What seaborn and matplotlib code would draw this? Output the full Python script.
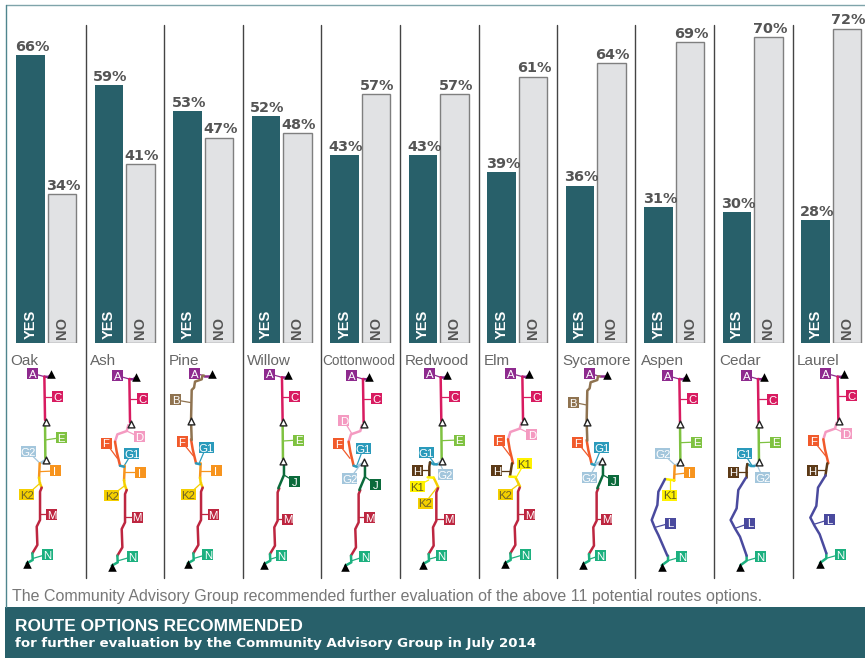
import pandas as pd
import seaborn as sns
import matplotlib.pyplot as plt
from matplotlib.patches import Rectangle

routes = ['Oak', 'Ash', 'Pine', 'Willow', 'Cottonwood', 'Redwood', 'Elm', 'Sycamore', 'Aspen', 'Cedar', 'Laurel']
yes_pct = [66, 59, 53, 52, 43, 43, 39, 36, 31, 30, 28]
no_pct = [34, 41, 47, 48, 57, 57, 61, 64, 69, 70, 72]

TEAL = '#28606a'
PAGE_W, PAGE_H = 865, 659

caption = 'The Community Advisory Group recommended further evaluation of the above 11 potential routes options.'
title = 'ROUTE OPTIONS RECOMMENDED'
subtitle = 'for further evaluation by the Community Advisory Group in July 2014'

# left edge of each route name on the page
name_x = [10, 90, 169, 247, 322, 405, 484, 562, 641, 719, 797]
# top black triangle of each map, page pixels
anchor_x = [50.7, 135.7, 211.7, 288.3, 369.3, 447, 528.7, 607.3, 685.7, 764.3, 844]
anchor_y = [374.3, 376.7, 374.3, 375, 376.7, 375, 374.3, 375, 376.7, 376.7, 374.3]
separator_x = [85.5, 163.5, 242.5, 321, 400, 478.5, 557, 635, 714, 792.5]

colors = {'A': '#8e2a8e', 'B': '#8f7350', 'C': '#d81b60', 'D': '#f49ac1', 'E': '#7fc241',
          'F': '#f15a2b', 'G1': '#2a9abb', 'G2': '#a3c6dc', 'H': '#5c3a17', 'I': '#f7941e',
          'J': '#0b6a3b', 'K1': '#fff200', 'K2': '#f4cf00', 'L': '#4a4a9e', 'M': '#bd2640', 'N': '#1cb07f'}
dark_text = {'K1': '#5f5a20', 'K2': '#6e6228'}

# map shapes, thirds of a pixel, relative to the top triangle
paths = {
    'A': ('A', [(-19, 7), (-8, 8), (0, 3)]),
    'A_b': ('A', [(-23, 4), (0, 4)]),
    'B': ('B', [(-23, 4), (-28, 4), (-30, 15), (-50, 22), (-53, 40), (-60, 47), (-62, 140), (-60, 197)]),
    'C': ('C', [(-19, 7), (-17, 137)]),
    'D': ('D', [(-22, 145), (-27, 163), (-55, 173), (-62, 195)]),
    'E': ('E', [(-17, 147), (-16, 252)]),
    'F': ('F', [(-62, 195), (-57, 225), (-47, 267)]),
    'G1': ('G1', [(-47, 267), (-35, 270)]),
    'G1_t': ('G1', [(-47, 267), (-38, 270)]),
    'G2_t': ('G2', [(-38, 270), (-15, 257)]),
    'G1_r': ('G1', [(-51, 262), (-40, 268), (-30, 268)]),
    'G2_r': ('G2', [(-30, 268), (-16, 258)]),
    'G2': ('G2', [(-32, 267), (-15, 257)]),
    'H_r': ('H', [(-51, 262), (-53, 275), (-53, 303)]),
    'H_f': ('H', [(-50, 267), (-56, 305)]),
    'I': ('I', [(-33, 267), (-35, 312)]),
    'J': ('J', [(-13, 262), (-13, 300), (-30, 340)]),
    'K1': ('K1', [(-58, 307), (-40, 308)]),
    'K1_i': ('K1', [(-34, 311), (-62, 307)]),
    'K2': ('K2', [(-35, 310), (-33, 325), (-27, 340)]),
    'K2_b': ('K2', [(-40, 308), (-26, 337)]),
    'L_k': ('L', [(-62, 307), (-82, 345), (-85, 385), (-102, 430), (-92, 455), (-82, 475), (-55, 537)]),
    'L_h': ('L', [(-55, 303), (-78, 340), (-83, 395), (-101, 430), (-88, 455), (-73, 480), (-53, 537)]),
    'M': ('M', [(-27, 340), (-32, 352), (-32, 437), (-42, 457), (-40, 512), (-55, 537)]),
    'N': ('N', [(-55, 537), (-54, 557), (-72, 567)]),
    'N_l': ('N', [(-53, 537), (-53, 552), (-72, 566)]),
}

route_paths = [
    ['A', 'C', 'E', 'G2', 'I', 'K2', 'M', 'N'],
    ['A', 'C', 'D', 'F', 'G1', 'I', 'K2', 'M', 'N'],
    ['A_b', 'B', 'F', 'G1', 'I', 'K2', 'M', 'N'],
    ['A', 'C', 'E', 'J', 'M', 'N'],
    ['A', 'C', 'D', 'F', 'G1_t', 'G2_t', 'J', 'M', 'N'],
    ['A', 'C', 'E', 'G1_r', 'G2_r', 'H_r', 'K1', 'K2_b', 'M', 'N'],
    ['A', 'C', 'D', 'F', 'H_f', 'K1', 'K2_b', 'M', 'N'],
    ['A_b', 'B', 'F', 'G1_t', 'G2_t', 'J', 'M', 'N'],
    ['A', 'C', 'E', 'G2', 'I', 'K1_i', 'L_k', 'N_l'],
    ['A', 'C', 'E', 'G1_r', 'G2_r', 'H_r', 'L_h', 'N_l'],
    ['A', 'C', 'D', 'F', 'H_f', 'L_h', 'N_l'],
]

# open triangles on each map
route_stops = [
    [(-14, 142), (-15, 257)],
    [(-15, 141)],
    [(-62, 140)],
    [(-16, 142), (-16, 257)],
    [(-15, 141), (-16, 257)],
    [(-15, 141), (-14, 257)],
    [(-15, 141)],
    [(-62, 140), (-16, 257)],
    [(-17, 141), (-17, 255)],
    [(-16, 141), (-16, 255)],
    [(-15, 141)],
]

# name, label x, label y, leader end x, leader end y
route_labels = [
    [('A', -55, -3, -19, 7), ('C', 21, 67, -18, 67), ('E', 31, 190, -16, 197), ('G2', -67, 233, -32, 267),
     ('I', 13, 290, -33, 292), ('K2', -72, 362, -30, 325), ('M', 3, 420, -32, 420), ('N', -11, 540, -52, 552)],
    [('A', -55, -3, -19, 7), ('C', 21, 66, -18, 66), ('D', 10, 180, -27, 163), ('F', -89, 199, -55, 245),
     ('G1', -12, 230, -35, 268), ('I', 13, 287, -35, 287), ('K2', -72, 356, -30, 325), ('M', 4, 421, -32, 421),
     ('N', -11, 540, -52, 552)],
    [('A', -52, -3, -23, 4), ('B', -108, 77, -62, 85), ('F', -89, 203, -55, 245), ('G1', -17, 219, -38, 268),
     ('I', 13, 290, -35, 290), ('K2', -71, 362, -30, 325), ('M', 4, 420, -32, 420), ('N', -12, 540, -52, 552)],
    [('A', -55, -3, -19, 7), ('C', 20, 65, -18, 65), ('E', 32, 195, -16, 198), ('J', 20, 320, -13, 300),
     ('M', -1, 432, -33, 432), ('N', -20, 542, -52, 552)],
    [('A', -53, -3, -19, 7), ('C', 23, 66, -18, 66), ('D', -76, 132, -53, 170), ('F', -93, 200, -58, 245),
     ('G1', -18, 215, -38, 268), ('G2', -58, 305, -25, 262), ('J', 20, 324, -13, 300), ('M', 1, 422, -32, 422),
     ('N', -13, 539, -52, 552)],
    [('A', -53, -5, -19, 7), ('C', 23, 65, -18, 65), ('E', 36, 195, -16, 197), ('G1', -63, 232, -38, 265),
     ('G2', -6, 298, -22, 264), ('H', -88, 286, -53, 286), ('K1', -89, 334, -55, 315), ('K2', -66, 384, -28, 335),
     ('M', 6, 432, -32, 432), ('N', -16, 542, -52, 552)],
    [('A', -55, -3, -19, 7), ('C', 22, 67, -18, 67), ('D', 9, 180, -27, 163), ('F', -89, 200, -55, 245),
     ('H', -96, 290, -54, 290), ('K1', -14, 269, -36, 307), ('K2', -71, 361, -30, 330), ('M', 3, 420, -32, 420),
     ('N', -11, 540, -52, 552)],
    [('A', -54, -5, -23, 4), ('B', -102, 82, -62, 90), ('F', -90, 202, -55, 245), ('G1', -17, 217, -38, 268),
     ('G2', -54, 307, -30, 262), ('J', 18, 317, -13, 300), ('M', -2, 432, -33, 432), ('N', -20, 541, -52, 552)],
    [('A', -55, -3, -19, 7), ('C', 21, 66, -18, 66), ('E', 33, 196, -16, 198), ('G2', -69, 231, -32, 265),
     ('I', 11, 288, -34, 293), ('K1', -48, 355, -48, 309), ('L', -45, 439, -92, 452), ('N', -12, 540, -53, 552)],
    [('A', -53, -3, -19, 7), ('C', 25, 68, -18, 68), ('E', 34, 196, -16, 198), ('G1', -60, 230, -38, 265),
     ('G2', -5, 302, -22, 264), ('H', -92, 286, -53, 286), ('L', -43, 439, -88, 455), ('N', -12, 540, -53, 552)],
    [('A', -55, -3, -19, 7), ('C', 21, 65, -18, 65), ('D', 8, 179, -27, 163), ('F', -91, 200, -55, 245),
     ('H', -95, 288, -54, 288), ('L', -45, 436, -90, 450), ('N', -10, 540, -53, 552)],
]

sns.set_theme(style='white')
plt.rcParams['font.family'] = ['Liberation Sans', 'DejaVu Sans']

fig = plt.figure(figsize=(PAGE_W / 100, PAGE_H / 100), dpi=100)

# whole page in pixels, used for the maps and the frame
page = fig.add_axes([0, 0, 1, 1])
page.set_xlim(0, PAGE_W)
page.set_ylim(PAGE_H, 0)
page.axis('off')

# bars
baseline = 342.5
px_per_pct = 4.36
ax = fig.add_axes([7 / PAGE_W, (PAGE_H - baseline) / PAGE_H, 78.5 * 11 / PAGE_W, baseline / PAGE_H])
ax.patch.set_alpha(0)

bars = pd.DataFrame({'route': routes * 2, 'vote': ['YES'] * 11 + ['NO'] * 11, 'pct': yes_pct + no_pct})
sns.barplot(data=bars, x='route', y='pct', hue='vote', hue_order=['YES', 'NO'],
            palette={'YES': TEAL, 'NO': '#e1e2e4'}, order=routes, width=0.8, gap=0.08,
            saturation=1, errorbar=None, legend=False, ax=ax)
ax.set_xlim(-0.5, 10.5)
ax.set_ylim(0, baseline / px_per_pct)
ax.axis('off')

for container, word, col in zip(ax.containers, ['YES', 'NO'], ['white', '#555555']):
    labels = ax.bar_label(container, fmt='%d%%', padding=0.8, fontsize=10.4, fontweight='bold', color='#555555',
                          family='DejaVu Sans')
    for t in labels:
        t.xyann = (1, t.xyann[1])
    for patch in container:
        ax.text(patch.get_x() + patch.get_width() / 2, 0.7, word, rotation=90, ha='center', va='bottom',
                color=col, fontsize=10.5, fontweight='bold')
        if word == 'NO':
            patch.set_edgecolor('#7f7f7f')
            patch.set_linewidth(1)
        else:
            patch.set_edgecolor(TEAL)
            patch.set_linewidth(0)

# frame and column rules
page.plot([6, PAGE_W], [4.5, 4.5], color='#7fa4aa', lw=1)
page.plot([6.3, 6.3], [4.5, 607], color='#4f858e', lw=1)
for x in separator_x:
    page.plot([x, x], [25, 578], color='#444444', lw=1)

# maps
route_rows = []
leader_rows = []
part = 0
for i in range(11):
    ox, oy = anchor_x[i], anchor_y[i]
    for key in route_paths[i]:
        name, pts = paths[key]
        part += 1
        for dx, dy in pts:
            route_rows.append((ox + dx / 3, oy + dy / 3, name, part))
    for name, lx, ly, ex, ey in route_labels[i]:
        part += 1
        leader_rows.append((ox + lx / 3, oy + ly / 3, name, part))
        leader_rows.append((ox + ex / 3, oy + ey / 3, name, part))

cols = ['x', 'y', 'seg', 'part']
sns.lineplot(data=pd.DataFrame(leader_rows, columns=cols), x='x', y='y', hue='seg', units='part', palette=colors,
             estimator=None, sort=False, linewidth=0.9, legend=False, ax=page)
sns.lineplot(data=pd.DataFrame(route_rows, columns=cols), x='x', y='y', hue='seg', units='part', palette=colors,
             estimator=None, sort=False, linewidth=1.8, legend=False, ax=page)

for i in range(11):
    ox, oy = anchor_x[i], anchor_y[i]
    page.text(name_x[i], 365, routes[i], ha='left', va='baseline', color='#666666',
              fontsize=9.8 if routes[i] == 'Cottonwood' else 11)
    for name, lx, ly, ex, ey in route_labels[i]:
        w = 15 if len(name) == 2 else 11
        page.add_patch(Rectangle((ox + lx / 3 - w / 2, oy + ly / 3 - 5.5), w, 11, color=colors[name], lw=0, zorder=4))
        page.text(ox + lx / 3, oy + ly / 3 + 0.3, name, ha='center', va='center_baseline', zorder=5,
                  color=dark_text.get(name, 'white'), fontsize=8.2, fontweight='medium')

sns.scatterplot(x=anchor_x, y=anchor_y, marker='^', color='black', s=38, linewidth=0, ax=page, zorder=6)
sns.scatterplot(x=[x - 24 for x in anchor_x], y=[y + 190 for y in anchor_y], marker='^', color='black',
                s=38, linewidth=0, ax=page, zorder=6)
stop_x = [anchor_x[i] + dx / 3 for i in range(11) for dx, dy in route_stops[i]]
stop_y = [anchor_y[i] + dy / 3 for i in range(11) for dx, dy in route_stops[i]]
sns.scatterplot(x=stop_x, y=stop_y, marker='^', color='white', edgecolor='#222222', s=24, linewidth=1, ax=page, zorder=6)

# footer
page.text(12, 601, caption, ha='left', va='baseline', color='#777777', fontsize=11.5)
page.add_patch(Rectangle((5, 607), PAGE_W - 5, 51, color=TEAL, lw=0))
page.text(15, 631, title, ha='left', va='baseline', color='white', fontsize=12.5, fontweight='bold')
page.text(15, 647, subtitle, ha='left', va='baseline', color='white', fontsize=9.6, fontweight='bold',
          family='DejaVu Sans')

fig.savefig('out.png', dpi=100)
